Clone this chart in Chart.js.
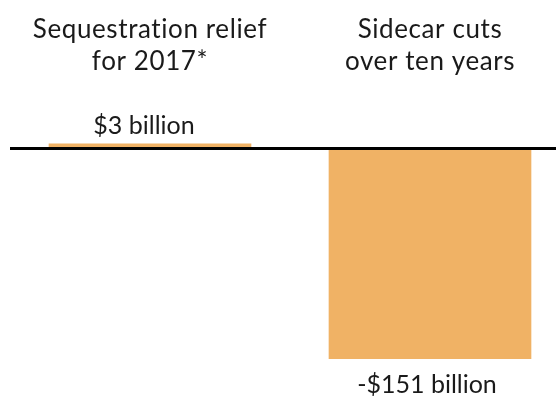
<!DOCTYPE html>
<html><head><meta charset="utf-8">
<script src="https://cdn.jsdelivr.net/npm/chart.js@4"></script>
<style>html,body{margin:0;padding:0;background:#fff;overflow:hidden}#wrap{width:556px;height:396px;position:relative}</style>
</head><body><div id="wrap"><canvas id="c"></canvas></div>
<script>
const categories = [["Sequestration relief","for 2017*"],["Sidecar cuts","over ten years"]];
const values = [3, -151];
const valueLabels = ["$3 billion", "-$151 billion"];
const barColor = "#F0B265";
const FONT = "Lato, 'Open Sans', sans-serif";

const labelPlugin = {
  id: "labels",
  afterDraw(chart) {
    const ctx = chart.ctx;
    const meta = chart.getDatasetMeta(0);
    ctx.save();
    ctx.fillStyle = "#1a1a1a";
    ctx.textAlign = "center";
    ctx.textBaseline = "alphabetic";
    meta.data.forEach((bar, i) => {
      ctx.font = "26px " + FONT;
      ctx.letterSpacing = "0.6px";
      const lines = categories[i];
      lines.forEach((ln, k) => ctx.fillText(ln, bar.x, 38 + k * 32));
      ctx.font = "25px " + FONT;
      ctx.letterSpacing = "0px";
      if (values[i] >= 0) {
        ctx.fillText(valueLabels[i], bar.x - 6, bar.y - 10);
      } else {
        ctx.fillText(valueLabels[i], bar.x - 3, bar.y + 34);
      }
    });
    ctx.restore();
  }
};

new Chart(document.getElementById("c"), {
  type: "bar",
  data: {
    datasets: [{
      data: values.map((v, i) => ({x: i, y: v})),
      backgroundColor: barColor,
      borderWidth: 0,
      barThickness: 202
    }]
  },
  options: {
    responsive: true,
    maintainAspectRatio: false,
    animation: false,
    layout: {padding: {left: 10, right: 0, top: 100, bottom: 37}},
    plugins: {legend: {display: false}, tooltip: {enabled: false}},
    scales: {
      x: {type: "linear", min: -0.5, max: 1.45, offset: false, display: false},
      y: {
        min: -151, max: 34.4,
        ticks: {display: false},
        border: {display: false},
        grid: {
          drawTicks: false,
          lineWidth: ctx => ctx.tick && ctx.tick.value === 0 ? 3 : 0,
          color: ctx => ctx.tick && ctx.tick.value === 0 ? "#000" : "rgba(0,0,0,0)",
          z: 1
        },
        afterBuildTicks: scale => { scale.ticks = [{value: 0}]; }
      }
    }
  },
  plugins: [labelPlugin]
});
</script></body></html>
